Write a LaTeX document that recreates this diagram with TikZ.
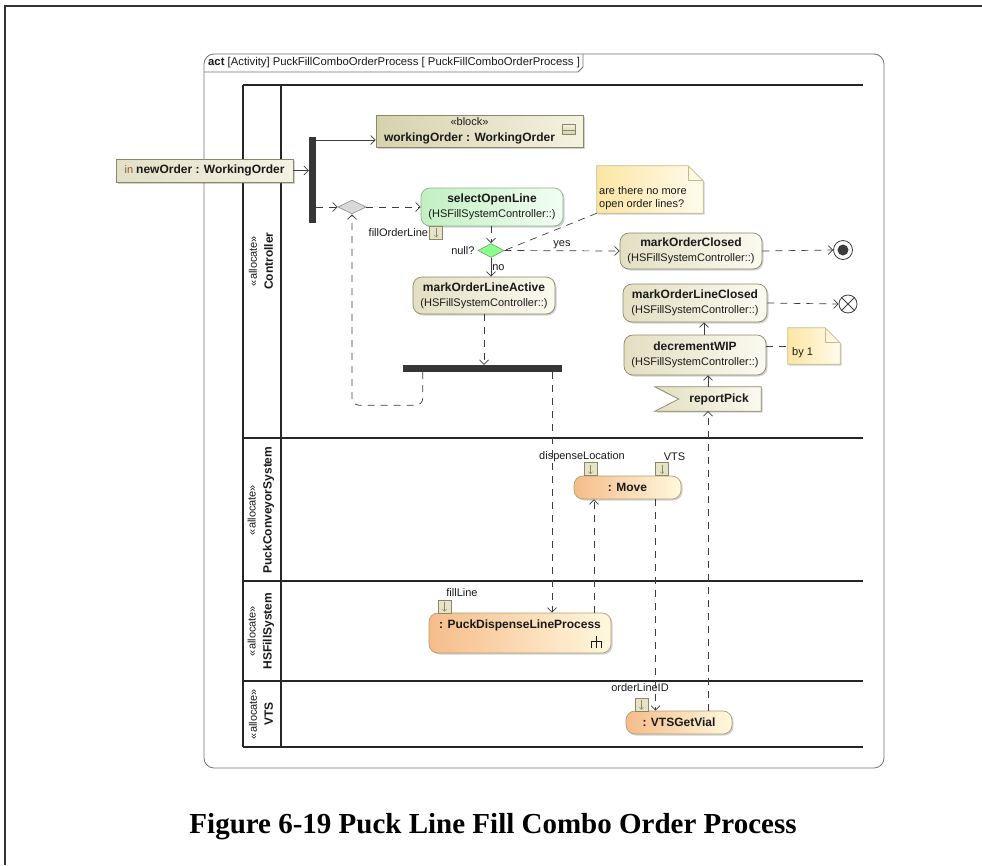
\documentclass[tikz,border=0pt]{standalone}
\usepackage{fontspec}
\setmainfont{Liberation Sans}
\newfontfamily\capfont{Liberation Serif}
\usetikzlibrary{arrows.meta,shapes.geometric,shadows,calc}
\definecolor{actb}{HTML}{8C8866}
\definecolor{actl}{HTML}{E2DFC2}
\definecolor{actr}{HTML}{FBFAF0}
\definecolor{grl}{HTML}{C2EFC2}
\definecolor{grr}{HTML}{F2FFF2}
\definecolor{grb}{HTML}{8FAF8F}
\definecolor{orl}{HTML}{F6BC8A}
\definecolor{orr}{HTML}{FFF8DE}
\definecolor{orb}{HTML}{AFA070}
\definecolor{blkl}{HTML}{D6D2AE}
\definecolor{blkr}{HTML}{F4F2E2}
\definecolor{notel}{HTML}{FCE6A4}
\definecolor{noter}{HTML}{FFFBEC}
\definecolor{noteb}{HTML}{C8B98C}
\definecolor{pinf}{HTML}{E6E3C8}
\definecolor{ln}{HTML}{3C3C3C}
\definecolor{txt}{HTML}{1A1A1A}
\definecolor{inbrown}{HTML}{8B5A2B}
\definecolor{framec}{HTML}{707070}
\newcommand{\nm}[1]{{\fontsize{12}{15}\selectfont\bfseries #1}}
\begin{document}
\begin{tikzpicture}[x=1pt,y=-1pt,
  sh/.style={drop shadow={shadow xshift=1.5pt,shadow yshift=-1.5pt,opacity=0.3,fill=black!60}},
  act/.style={draw=actb, line width=0.7pt, rounded corners=9pt, left color=actl, right color=actr,
    align=center, inner sep=0pt, font=\fontsize{11}{15}\selectfont, text=txt, sh},
  actg/.style={act, draw=grb, left color=grl, right color=grr},
  acto/.style={act, draw=orb, left color=orl, right color=orr},
  blockst/.style={draw=actb, line width=0.7pt, left color=blkl, right color=blkr, inner sep=0pt, sh},
  pinnew/.style={draw=actb, line width=0.7pt, left color=blkl!70!white, right color=blkr, inner sep=0pt,
    font=\fontsize{11}{15}\selectfont, text=txt, sh},
  pinbox/.style={draw=actb, line width=0.6pt, fill=pinf, minimum width=13pt, minimum height=13pt, inner sep=0pt,
    path picture={\draw[actb, line width=0.5pt, -{Straight Barb[length=2pt,width=4pt]}]
      ([yshift=-2pt]path picture bounding box.north) -- ([yshift=1.5pt]path picture bounding box.south);}},
  barst/.style={fill=ln!90!black, inner sep=0pt},
  mergest/.style={diamond, draw=black!45, fill=black!15, line width=0.6pt, minimum width=28pt, minimum height=14pt, inner sep=0pt},
  decst/.style={diamond, draw=green!40!black!60, fill=green!45!white, line width=0.6pt, minimum width=26pt, minimum height=14pt, inner sep=0pt},
  lbl/.style={font=\fontsize{11}{13}\selectfont, text=txt, inner sep=1pt},
  lanelbl/.style={rotate=90, align=center, font=\fontsize{11}{16}\selectfont, text=txt, inner sep=0pt},
  lane/.style={draw=black!85, line width=2pt},
  flow/.style={draw=ln, line width=0.7pt, -{Straight Barb[length=4.5pt,width=9pt]}},
  cflow/.style={flow, dash pattern=on 7pt off 6pt},
  noteline/.style={draw=ln, line width=0.7pt, dash pattern=on 7pt off 6pt},
  notest/.style={draw=noteb, line width=0.7pt, left color=notel, right color=noter, sh},
  ]
\useasboundingbox (0,0) rectangle (982,865);
% page border
\draw[black!80, line width=1.2pt] (5,865) -- (5,6) -- (982,6);
% frame
\draw[framec, line width=0.8pt, rounded corners=10pt] (204,54) rectangle (884,768);
\draw[framec, line width=0.8pt] (204,72) -- (578,72) -- (583,67) -- (583,54);
\node[anchor=west, font=\fontsize{11.3}{13}\selectfont, text=txt, inner sep=0pt] (ftitle) at (208,63)
  {\textbf{act} [Activity] PuckFillComboOrderProcess [ PuckFillComboOrderProcess ]};
% lanes
\foreach \yy in {85,438,581,681,747} \draw[lane] (243,\yy) -- (863,\yy);
\draw[lane] (243,85) -- (243,747);
\draw[lane] (281,85) -- (281,747);
\node[lanelbl] (l1) at (261,261) {«allocate»\\\nm{Controller}};
\node[lanelbl] (l2) at (261,510) {«allocate»\\\nm{PuckConveyorSystem}};
\node[lanelbl] (l3) at (261,631) {«allocate»\\\nm{HSFillSystem}};
\node[lanelbl] (l4) at (261,714) {«allocate»\\\nm{VTS}};
% block
\node[blockst, minimum width=207pt, minimum height=32pt] (block) at (479.5,131) {};
\node[align=center, font=\fontsize{11}{16}\selectfont, text=txt, inner sep=0pt] (blocktxt) at ([xshift=-10pt]block.center)
  {«block»\\\nm{workingOrder : WorkingOrder}};
\draw[actb, line width=0.6pt, top color=blkr, bottom color=blkl] (562,124) rectangle (575,134);
\draw[actb, line width=0.6pt] (562,130.5) -- (575,130.5);
% input pin
\node[pinnew, minimum width=177pt, minimum height=23pt] (pinNew) at (204.5,170.5)
  {\textcolor{inbrown}{in} \nm{newOrder : WorkingOrder}};
% fork
\node[barst, minimum width=7pt, minimum height=86pt] (fork1) at (312.5,180) {};
\node[mergest] (merge) at (352,207) {};
\node[actg, minimum width=142pt, minimum height=38pt] (sel) at (492,207) {\nm{selectOpenLine}\\(HSFillSystemController::)};
\node[pinbox] (pinFOL) at (436,232.5) {};
\node[lbl, anchor=east] (lFOL) at (pinFOL.west) {fillOrderLine};
\node[decst] (dec) at (491,250.5) {};
\node[lbl, anchor=east] (lnull) at ([xshift=-2pt]dec.west) {null?};
% note 1
\node[minimum width=106pt, minimum height=47pt, inner sep=0pt] (note1) at (650,189.5) {};
\draw[notest] (note1.north west) -- ([xshift=-15pt]note1.north east) -- ([yshift=-15pt]note1.north east)
  -- (note1.south east) -- (note1.south west) -- cycle;
\draw[noteb, line width=0.7pt] ([xshift=-15pt]note1.north east) -- ([xshift=-15pt,yshift=-15pt]note1.north east) -- ([yshift=-15pt]note1.north east);
\node[anchor=west, align=left, font=\fontsize{11}{12.5}\selectfont, text=txt, inner sep=0pt] (n1txt) at (599,198)
  {are there no more\\open order lines?};
% actions
\node[act, minimum width=142pt, minimum height=36pt] (moc) at (691,251) {\nm{markOrderClosed}\\(HSFillSystemController::)};
\node[circle, draw=ln, fill=white, line width=0.8pt, minimum size=19pt, inner sep=0pt] (fin) at (843,250) {};
\fill[ln] (fin.center) circle (5.5pt);
\node[act, minimum width=142pt, minimum height=37pt] (mola) at (484,295.5) {\nm{markOrderLineActive}\\(HSFillSystemController::)};
\node[act, minimum width=144pt, minimum height=38pt] (molc) at (695,303) {\nm{markOrderLineClosed}\\(HSFillSystemController::)};
\node[circle, draw=ln, fill=white, line width=0.8pt, minimum size=18pt, inner sep=0pt] (ffin) at (848,304) {};
\draw[ln, line width=0.8pt] (ffin.north east) -- (ffin.south west) (ffin.north west) -- (ffin.south east);
\node[act, minimum width=142pt, minimum height=40pt] (dw) at (695,355) {\nm{decrementWIP}\\(HSFillSystemController::)};
% note 2
\node[minimum width=52pt, minimum height=36pt, inner sep=0pt] (note2) at (814,346) {};
\draw[notest] (note2.north west) -- ([xshift=-15pt]note2.north east) -- ([yshift=-15pt]note2.north east)
  -- (note2.south east) -- (note2.south west) -- cycle;
\draw[noteb, line width=0.7pt] ([xshift=-15pt]note2.north east) -- ([xshift=-15pt,yshift=-15pt]note2.north east) -- ([yshift=-15pt]note2.north east);
\node[anchor=west, font=\fontsize{11}{13}\selectfont, text=txt, inner sep=0pt] (n2txt) at (792,353) {by 1};
% accept event
\node[minimum width=106pt, minimum height=24pt, inner sep=0pt] (rp) at (708,399) {};
\draw[draw=actb, line width=0.7pt, left color=actl, right color=actr, sh]
  (rp.north west) -- (rp.north east) -- (rp.south east) -- (rp.south west) -- ([xshift=24pt]rp.west) -- cycle;
\node[text=txt, inner sep=0pt] (rptxt) at ([xshift=11pt]rp.center) {\nm{reportPick}};
% join/fork bar
\node[barst, minimum width=159pt, minimum height=7pt] (bar2) at (482.5,368.5) {};
% lower actions
\node[acto, minimum width=107pt, minimum height=23pt] (move) at (627.5,487.5) {\nm{: Move}};
\node[pinbox] (pinDL) at (590.5,469) {};
\node[pinbox] (pinVTS) at (662,469) {};
\node[lbl] (lDL) at (582,457) {dispenseLocation};
\node[lbl] (lVTS) at (674.5,457) {VTS};
\node[acto, minimum width=182pt, minimum height=40pt] (pdlp) at (520,633) {};
\node[text=txt, inner sep=0pt] (pdtxt) at ([yshift=8pt]pdlp.center) {\nm{: PuckDispenseLineProcess}};
\draw[txt, line width=1pt] (596,636) -- (596,648) (591,648) -- (591,641.5) -- (601,641.5) -- (601,648);
\node[pinbox] (pinFL) at (444.5,606.5) {};
\node[lbl] (lFL) at (462,593) {fillLine};
\node[acto, minimum width=106pt, minimum height=23pt] (vtsg) at (679,722.5) {\nm{: VTSGetVial}};
\node[pinbox] (pinOL) at (641.5,704.5) {};
\node[lbl] (lOL) at (640,688) {orderLineID};
% connectors
\draw[flow] (pinNew.east) -- (pinNew.east -| fork1.west);
\draw[flow] ([yshift=-9pt]block.west -| fork1.east) -- ([yshift=-9pt]block.west);
\draw[cflow] (merge.west -| fork1.east) -- (merge.west);
\draw[cflow] (merge.east) -- (sel.west);
\draw[cflow] (sel.south -| dec.north) -- (dec.north);
\draw[cflow] (dec.east) -- (moc.west) node[lbl, midway, above, yshift=1pt] {yes};
\draw[cflow] (moc.east) -- (fin.west);
\draw[flow] (dec.south) -- (dec.south |- mola.north) node[lbl, midway, right] {no};
\draw[cflow] (mola.south) -- (mola.south |- bar2.north);
\draw[cflow, rounded corners=7pt] ([xshift=20pt]bar2.south west) -- ++(0,33) -| (merge.south);
\draw[cflow] ([xshift=32pt]pdlp.north |- bar2.south) -- ([xshift=32pt]pdlp.north);
\draw[cflow] ([xshift=74pt]pdlp.north) -- ([xshift=74pt]pdlp.north |- move.south);
\draw[cflow] ([xshift=28pt]move.south) -- ([xshift=28pt]move.south |- vtsg.north);
\draw[cflow] ([xshift=29pt]vtsg.north) -- ([xshift=29pt]vtsg.north |- rp.south);
\draw[flow] (rp.north) -- (rp.north |- dw.south);
\draw[flow] ([xshift=9pt]dw.north) -- ([xshift=9pt]dw.north |- molc.south);
\draw[cflow] (molc.east) -- (ffin.west);
\draw[noteline] (note1.south west) -- (dec.east);
\draw[noteline] (note2.west -| dw.east) -- (note2.west);
% caption
\node[anchor=base, font=\capfont\bfseries\fontsize{29}{34}\selectfont, text=black, inner sep=0pt] (cap) at (493,833)
  {Figure 6-19 Puck Line Fill Combo Order Process};
\end{tikzpicture}
\end{document}
